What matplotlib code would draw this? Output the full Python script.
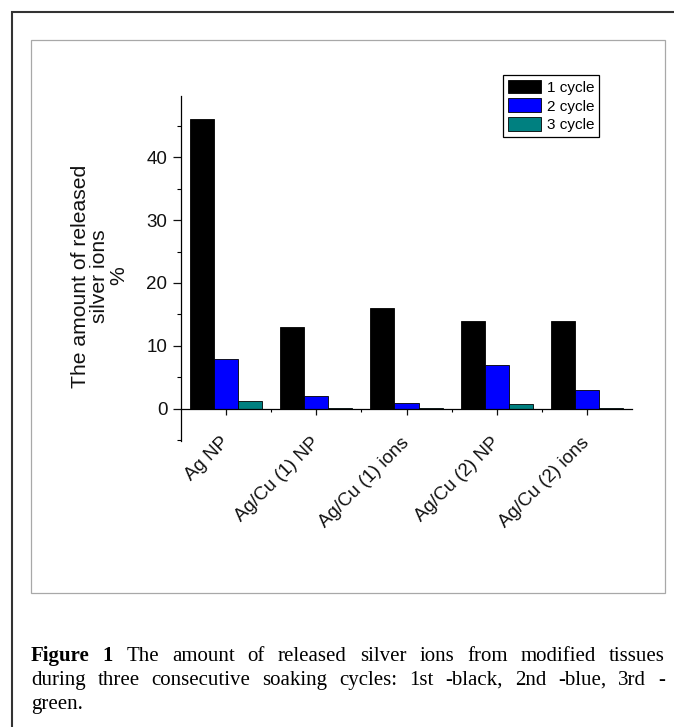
import matplotlib
matplotlib.use("Agg")
import numpy as np
import matplotlib.pyplot as plt
from matplotlib.patches import Rectangle, Patch
from matplotlib.ticker import FixedLocator
from matplotlib.transforms import ScaledTranslation

# data
categories = ["Ag NP", "Ag/Cu (1) NP", "Ag/Cu (1) ions", "Ag/Cu (2) NP", "Ag/Cu (2) ions"]
cycle1 = [46, 13, 16, 14, 14]
cycle2 = [8, 2, 1, 7, 3]
cycle3 = [1.3, 0.2, 0.15, 0.75, 0.2]
series_labels = ["1 cycle", "2 cycle", "3 cycle"]
series_colors = ["#000000", "#0000ff", "#008080"]

caption_lines = [
    [("Figure", "bold"), ("1", "bold"), "The", "amount", "of", "released", "silver",
     "ions", "from", "modified", "tissues"],
    "during three consecutive soaking cycles: 1st -black, 2nd -blue, 3rd -".split(),
    ["green."],
]

W, H = 674, 727
plt.rcParams['font.family'] = ['Liberation Sans', 'DejaVu Sans']

fig = plt.figure(figsize=(W / 100, H / 100), dpi=100)


def fx(px):
    return px / W


def fy(py):
    return 1 - py / H


# outer border and inner frame
fig.patches.append(Rectangle((fx(11.5), fy(H + 20)), fx(W + 20), (H + 20 - 12) / H,
                             transform=fig.transFigure, fill=False,
                             edgecolor='#333333', linewidth=1.5))
fig.patches.append(Rectangle((fx(30.5), fy(592.5)), fx(665 - 30.5), (592.5 - 39.5) / H,
                             transform=fig.transFigure, fill=False,
                             edgecolor='#a8a8a8', linewidth=0.9))

ax = fig.add_axes([fx(181), fy(441), fx(632 - 181), (441 - 96) / H])

x = np.arange(1, len(categories) + 1)
w = 0.267
for i, (vals, col) in enumerate(zip([cycle1, cycle2, cycle3], series_colors)):
    ax.bar(x + (i - 1) * w, vals, w, color=col, edgecolor='black', linewidth=0.6)

ax.set_xlim(0.5, 5.5)
ax.set_ylim(-5.1, 49.7)

for s in ['top', 'right']:
    ax.spines[s].set_visible(False)
ax.spines['bottom'].set_position(('data', 0))
ax.spines['left'].set_linewidth(0.9)
ax.spines['bottom'].set_linewidth(0.9)

ax.yaxis.set_major_locator(FixedLocator([0, 10, 20, 30, 40]))
ax.yaxis.set_minor_locator(FixedLocator([-5, 5, 15, 25, 35, 45]))
ax.xaxis.set_major_locator(FixedLocator(list(x)))
ax.xaxis.set_minor_locator(FixedLocator(list(x[:-1] + 0.5)))

ax.tick_params(axis='y', which='major', direction='out', length=5.8, width=0.9,
               labelsize=13.5, pad=4, colors='#111111')
ax.tick_params(axis='y', which='minor', direction='out', length=2.9, width=0.8)
ax.tick_params(axis='x', which='major', direction='out', length=4, width=0.9,
               labelsize=13.5, pad=14, colors='#111111')
ax.tick_params(axis='x', which='minor', direction='out', length=2.2, width=0.8)
ax.set_xticklabels(categories, rotation=45, ha='right', va='top')
shift = ScaledTranslation(6 / 100, 0, fig.dpi_scale_trans)
for lbl in ax.get_xticklabels():
    lbl.set_transform(lbl.get_transform() + shift)

fig.text(fx(100), fy(276), "The amount of released\nsilver ions\n%", rotation=90,
         ha='center', va='center', multialignment='center', fontsize=15.2,
         linespacing=1.0, color='#111111')

handles = [Patch(facecolor=c, edgecolor='black', linewidth=0.6) for c in series_colors]
leg = ax.legend(handles, series_labels, loc='upper left',
                bbox_to_anchor=(fx(503), fy(75)), bbox_transform=fig.transFigure,
                frameon=True, fancybox=False, edgecolor='black', framealpha=1,
                borderaxespad=0, borderpad=0.3, handlelength=2.2, handleheight=1.0,
                handletextpad=0.4, labelspacing=0.25, fontsize=11)
leg.get_frame().set_linewidth(0.9)

# justified caption
renderer = fig.canvas.get_renderer()
left, right = 31, 665
baselines = [661, 685, 709]
for li, words in enumerate(caption_lines):
    items = []
    for wd in words:
        if isinstance(wd, tuple):
            items.append((wd[0], wd[1]))
        else:
            items.append((wd, 'normal'))
    texts = []
    widths = []
    for t, wt in items:
        tx = fig.text(0, fy(baselines[li]), t, fontsize=15, fontweight=wt,
                      family=['Liberation Serif', 'DejaVu Serif'], va='baseline', ha='left')
        texts.append(tx)
        widths.append(tx.get_window_extent(renderer).width)
    if li < len(caption_lines) - 1 and len(texts) > 1:
        gap = (right - left - sum(widths)) / (len(texts) - 1)
    else:
        gap = 5
    pos = left
    for tx, wdt in zip(texts, widths):
        tx.set_x(fx(pos))
        pos += wdt + gap

fig.savefig("out.png", dpi=100)
